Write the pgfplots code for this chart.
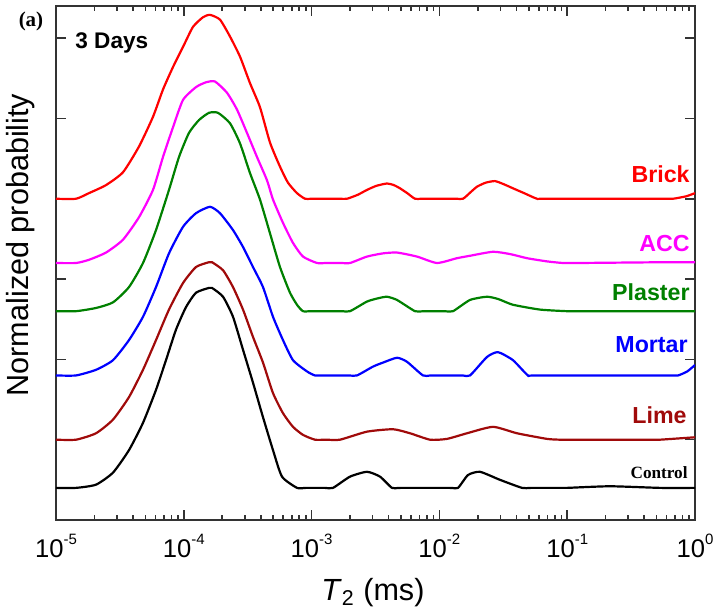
\documentclass[border=0pt]{standalone}
\usepackage{fontspec}
\setmainfont{Liberation Sans}
\newfontfamily\timesfont{Liberation Serif}
\usepackage{pgfplots}
\pgfplotsset{compat=1.18}
\definecolor{cBrick}{RGB}{255,0,0}
\definecolor{cACC}{RGB}{255,0,255}
\definecolor{cPlaster}{RGB}{0,128,0}
\definecolor{cMortar}{RGB}{0,0,255}
\definecolor{cLime}{RGB}{160,10,10}
\definecolor{cControl}{RGB}{0,0,0}
\newcommand{\tenp}[1]{\mbox{10\raisebox{6.5pt}{\fontsize{7.5}{8}\selectfont #1}}}
\begin{document}
\begin{tikzpicture}
\begin{axis}[
  scale only axis, width=319.5pt, height=257pt,
  xmode=log, xmin=1e-5, xmax=1, ymin=0, ymax=6.4,
  xtick={1e-5,1e-4,1e-3,1e-2,1e-1,1},
  xticklabels={\tenp{-5},\tenp{-4},\tenp{-3},\tenp{-2},\tenp{-1},\tenp{0}},
  minor xtick={2e-5,3e-5,4e-5,5e-5,6e-5,7e-5,8e-5,9e-5,
               2e-4,3e-4,4e-4,5e-4,6e-4,7e-4,8e-4,9e-4,
               2e-3,3e-3,4e-3,5e-3,6e-3,7e-3,8e-3,9e-3,
               2e-2,3e-2,4e-2,5e-2,6e-2,7e-2,8e-2,9e-2,
               0.2,0.3,0.4,0.5,0.6,0.7,0.8,0.9},
  ytick={1,2,3,4,5,6}, yticklabels={},
  tick align=inside, xtick pos=both, ytick pos=both,
  major tick length=5pt, minor tick length=2.5pt,
  every tick/.style={black!80, line width=0.8pt},
  axis line style={black!80, line width=1pt},
  xticklabel style={font=\fontsize{12.8}{14}\selectfont, anchor=base, yshift=-19pt},
  xlabel={\textit{T}\textsubscript{2} (ms)},
  xlabel style={font=\fontsize{15.3}{17}\selectfont, at={(axis description cs:0.496,0)}, anchor=base, yshift=-40pt},
  ylabel={Normalized probability},
  ylabel style={font=\fontsize{15.3}{17}\selectfont, at={(axis description cs:-0.0423,0.535)}, anchor=base},
  every axis plot/.append style={line width=1.1pt, line join=round, mark=none, smooth, tension=0.35},
]
% Brick
\addplot[cBrick] coordinates {
(1.000e-5,4.00) (1.434e-5,4.00) (1.812e-5,4.07) (2.462e-5,4.17) (3.344e-5,4.33) (4.461e-5,4.65) (5.741e-5,5.02) (6.875e-5,5.36) (8.232e-5,5.64) (9.856e-5,5.89) (1.180e-4,6.14) (1.413e-4,6.26) (1.603e-4,6.29) (1.920e-4,6.23) (2.299e-4,6.02) (2.753e-4,5.77) (3.296e-4,5.44) (3.946e-4,5.14) (4.726e-4,4.70) (5.658e-4,4.40) (6.535e-4,4.20) (7.688e-4,4.07) (8.882e-4,4.00) (1.0e-3,4.00) (1.65e-3,4.00) (1.892e-3,4.00) (2.3e-3,4.05) (2.713e-3,4.11) (3.2e-3,4.16) (3.890e-3,4.19) (4.4e-3,4.17) (4.917e-3,4.13) (5.6e-3,4.07) (6.444e-3,4.00) (7.4e-3,4.00) (1.33e-2,4.00) (1.530e-2,4.00) (1.75e-2,4.08) (1.969e-2,4.15) (2.3e-2,4.20) (2.723e-2,4.22) (3.2e-2,4.18) (3.766e-2,4.13) (4.6e-2,4.07) (5.803e-2,4.00) (6.8e-2,4.00) (0.58,4.00) (0.6727,4.00) (0.85,4.03) (1,4.07)
};
% ACC
\addplot[cACC] coordinates {
(1e-5,3.20) (1.434e-5,3.20) (1.812e-5,3.24) (2.462e-5,3.33) (3.344e-5,3.49) (4.461e-5,3.77) (5.741e-5,4.11) (6.875e-5,4.52) (8.232e-5,4.89) (9.856e-5,5.23) (1.246e-4,5.39) (1.492e-4,5.45) (1.754e-4,5.46) (2.178e-4,5.32) (2.608e-4,5.11) (3.123e-4,4.82) (3.739e-4,4.52) (4.477e-4,4.23) (4.989e-4,3.99) (5.972e-4,3.70) (7.153e-4,3.45) (8.566e-4,3.28) (1.102e-3,3.20) (1.3e-3,3.20) (1.7e-3,3.20) (1.998e-3,3.20) (2.713e-3,3.28) (3.620e-3,3.32) (4.658e-3,3.33) (6.680e-3,3.28) (9.577e-3,3.20) (1.373e-2,3.26) (1.736e-2,3.29) (2.627e-2,3.34) (3.6e-2,3.31) (4.846e-2,3.26) (6.95e-2,3.22) (9.271e-2,3.20) (0.12,3.20) (0.6,3.21) (1,3.21)
};
% Plaster
\addplot[cPlaster] coordinates {
(1e-5,2.60) (1.434e-5,2.60) (2.056e-5,2.64) (2.793e-5,2.71) (3.726e-5,2.90) (4.795e-5,3.20) (6.061e-5,3.61) (7.660e-5,4.11) (9.172e-5,4.52) (1.098e-4,4.82) (1.315e-4,4.98) (1.575e-4,5.07) (1.852e-4,5.07) (2.299e-4,4.94) (2.753e-4,4.69) (3.296e-4,4.32) (3.946e-4,3.99) (4.726e-4,3.57) (5.658e-4,3.15) (6.776e-4,2.83) (7.688e-4,2.68) (8.566e-4,2.60) (1.0e-3,2.60) (1.7e-3,2.60) (1.998e-3,2.60) (2.713e-3,2.72) (3.3e-3,2.76) (3.890e-3,2.78) (4.658e-3,2.74) (6.444e-3,2.60) (7.5e-3,2.60) (1.1e-2,2.60) (1.278e-2,2.60) (1.736e-2,2.74) (2.358e-2,2.78) (2.9e-2,2.75) (3.766e-2,2.68) (6.126e-2,2.62) (9.963e-2,2.60) (0.13,2.60) (0.6,2.60) (1,2.60)
};
% Mortar
\addplot[cMortar] coordinates {
(1e-5,1.80) (1.434e-5,1.80) (2.056e-5,1.87) (2.793e-5,1.99) (3.726e-5,2.24) (4.795e-5,2.53) (6.061e-5,2.90) (7.660e-5,3.32) (9.856e-5,3.65) (1.246e-4,3.82) (1.603e-4,3.90) (1.920e-4,3.82) (2.427e-4,3.61) (2.906e-4,3.40) (3.479e-4,3.15) (4.166e-4,2.90) (4.989e-4,2.53) (5.972e-4,2.24) (7.153e-4,1.99) (9.204e-4,1.85) (1.063e-3,1.80) (1.25e-3,1.80) (1.95e-3,1.80) (2.266e-3,1.80) (3.023e-3,1.91) (3.620e-3,1.96) (4.658e-3,2.02) (5.578e-3,1.97) (7.441e-3,1.80) (8.7e-3,1.80) (1.5e-2,1.80) (1.736e-2,1.80) (2.358e-2,2.03) (2.874e-2,2.09) (3.766e-2,1.99) (4.935e-2,1.80) (5.8e-2,1.80) (0.63,1.80) (0.7362,1.80) (0.87,1.85) (1,1.93)
};
% Lime
\addplot[cLime] coordinates {
(1e-5,1.00) (1.434e-5,1.00) (2.056e-5,1.08) (2.793e-5,1.25) (3.726e-5,1.53) (4.795e-5,1.87) (6.061e-5,2.24) (7.660e-5,2.62) (9.856e-5,2.95) (1.246e-4,3.15) (1.575e-4,3.21) (1.662e-4,3.21) (2.027e-4,3.11) (2.427e-4,2.90) (2.906e-4,2.62) (3.479e-4,2.28) (4.166e-4,1.96) (4.989e-4,1.58) (5.972e-4,1.33) (7.153e-4,1.16) (8.566e-4,1.06) (1.063e-3,1.00) (1.3e-3,1.00) (1.668e-3,1.00) (2.713e-3,1.10) (4.335e-3,1.13) (5.888e-3,1.08) (8.444e-3,1.00) (1.147e-2,1.01) (1.644e-2,1.08) (2.627e-2,1.16) (4.048e-2,1.08) (6.950e-2,1.01) (8.784e-2,1.00) (0.105,1.00) (0.45,1.00) (0.5323,1.00) (1,1.03)
};
% Control
\addplot[cControl] coordinates {
(1e-5,0.40) (1.434e-5,0.40) (2.056e-5,0.44) (2.793e-5,0.59) (3.726e-5,0.87) (4.795e-5,1.21) (6.061e-5,1.62) (7.257e-5,1.99) (8.690e-5,2.37) (1.040e-4,2.65) (1.246e-4,2.83) (1.575e-4,2.89) (1.662e-4,2.89) (2.027e-4,2.78) (2.427e-4,2.53) (2.906e-4,2.12) (3.479e-4,1.71) (4.166e-4,1.28) (4.989e-4,0.87) (5.866e-4,0.54) (7.688e-4,0.40) (9.0e-4,0.40) (1.27e-3,0.40) (1.471e-3,0.40) (1.998e-3,0.54) (2.713e-3,0.60) (3.429e-3,0.54) (4.257e-3,0.40) (5.0e-3,0.40) (1.2e-2,0.40) (1.398e-2,0.40) (1.674e-2,0.56) (2.078e-2,0.60) (2.980e-2,0.50) (4.430e-2,0.40) (5.2e-2,0.40) (8.5e-2,0.40) (9.963e-2,0.40) (0.2162,0.42) (0.5323,0.40) (1,0.40)
};
\end{axis}
\begin{scope}[font=\fontsize{11.6}{13}\selectfont\bfseries]
\node[anchor=base east, text=cBrick, inner sep=0pt] at (317pt,168.5pt) {Brick};
\node[anchor=base east, text=cACC, inner sep=0pt] at (317pt,134pt) {ACC};
\node[anchor=base east, text=cPlaster, inner sep=0pt] at (317pt,109.5pt) {Plaster};
\node[anchor=base east, text=cMortar, inner sep=0pt] at (316pt,83.5pt) {Mortar};
\node[anchor=base east, text=cLime, inner sep=0pt] at (315.5pt,48pt) {Lime};
\end{scope}
\node[anchor=base east, inner sep=0pt, font=\timesfont\fontsize{8.6}{10}\selectfont\bfseries] at (316pt,20.5pt) {Control};
\node[anchor=base west, inner sep=0pt, font=\fontsize{11.3}{13}\selectfont\bfseries] at (9.5pt,235.5pt) {3 Days};
\node[anchor=center, inner sep=0pt, font=\timesfont\fontsize{10.5}{12}\selectfont\bfseries] at (-12.5pt,249.5pt) {(a)};
\pgfresetboundingbox
\path[use as bounding box] (-28pt,-47pt) rectangle (332.5pt,260pt);
\end{tikzpicture}
\end{document}
